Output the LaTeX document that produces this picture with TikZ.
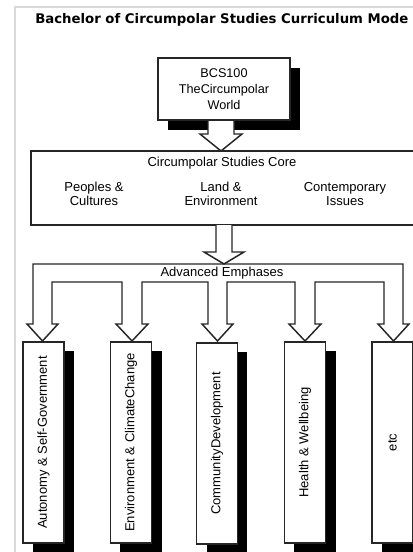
\documentclass[tikz,border=0pt]{standalone}
\usepackage{fontspec}
\setmainfont{Liberation Sans}
\newfontfamily\titlefont{DejaVu Sans}
\begin{document}
\begin{tikzpicture}[x=0.75pt,y=-0.75pt,
  ln/.style={draw=black!85, line width=1.1pt},
  shade/.style={fill=black},
  box/.style={draw=black!85, line width=1.1pt, fill=white, inner sep=0pt, align=center,
    font=\fontsize{9.75}{12}\selectfont},
  vbox/.style={box, rotate=90, minimum width=150.75pt, minimum height=30.75pt},
  lbl/.style={inner sep=0pt, align=center, font=\fontsize{9.75}{10.5}\selectfont},
  barrow/.style={ln, fill=white, line join=miter}
]
\useasboundingbox (0,0) rectangle (413,552);
\fill[white] (0,0) rectangle (413,552);
% frame
\draw[black!15, line width=1pt] (15,552) -- (15,7) -- (413,7);
% title
\node[anchor=west, inner sep=0pt, font=\titlefont\bfseries\fontsize{9.95}{12}\selectfont] (title) at (35,20)
  {Bachelor of Circumpolar Studies Curriculum Mode};

% BCS100 box with shadow
\fill[shade] (168,68) rectangle (300,130);
\filldraw[barrow] (208,119) -- (208,134) -- (200,134) -- (221,151) -- (242,134) -- (234,134) -- (234,119);
\node[box, minimum width=99pt, minimum height=46.5pt, font=\fontsize{9.5}{12}\selectfont] (bcs) at (224,89)
  {BCS100\\TheCircumpolar\\World};

% core box (open to the right edge)
\fill[white] (31,151) rectangle (413,225);
\draw[ln] (413,151) -- (31,151) -- (31,225) -- (413,225);
\node[lbl] (core) at (222,163) {Circumpolar Studies Core};
\node[lbl] (peoples) at (94,194) {Peoples \&\\Cultures};
\node[lbl] (land) at (221,194) {Land \&\\Environment};
\node[lbl] (contemp) at (345,194) {Contemporary\\Issues};

% shadows of emphasis boxes
\fill[shade] (33,351) rectangle (74,552);
\fill[shade] (120,351) rectangle (162,552);
\fill[shade] (207,352) rectangle (247,552);
\fill[shade] (294,351) rectangle (336,552);
\fill[shade] (382,351) rectangle (413,552);

% branching band
\filldraw[barrow]
  (33,264) -- (403,264) -- (403,324) -- (409,324) -- (393.5,341) -- (378,324) -- (384,324) -- (384,282)
  -- (315,282) -- (315,324) -- (321,324) -- (305,341) -- (289,324) -- (295,324) -- (295,282)
  -- (227,282) -- (227,324) -- (233,324) -- (217.5,341) -- (202,324) -- (208,324) -- (208,282)
  -- (142,282) -- (142,324) -- (148,324) -- (132,341) -- (116,324) -- (122,324) -- (122,282)
  -- (52,282) -- (52,324) -- (58,324) -- (42.5,341) -- (27,324) -- (33,324) -- cycle;
\node[lbl] (adv) at (222,273) {Advanced Emphases};

% arrow core -> band
\filldraw[barrow] (216,225) -- (216,252) -- (204,252) -- (224,264) -- (244,252) -- (232,252) -- (232,225);

% emphasis boxes
\node[vbox] (e1) at (43.5,442.5) {Autonomy \& Self-Government};
\node[vbox] (e2) at (131,442.5) {Environment \& ClimateChange};
\node[vbox] (e3) at (217,443.5) {CommunityDevelopment};
\node[vbox] (e4) at (305,442.5) {Health \& Wellbeing};
\node[vbox] (e5) at (392.5,442.5) {etc};
\end{tikzpicture}
\end{document}
